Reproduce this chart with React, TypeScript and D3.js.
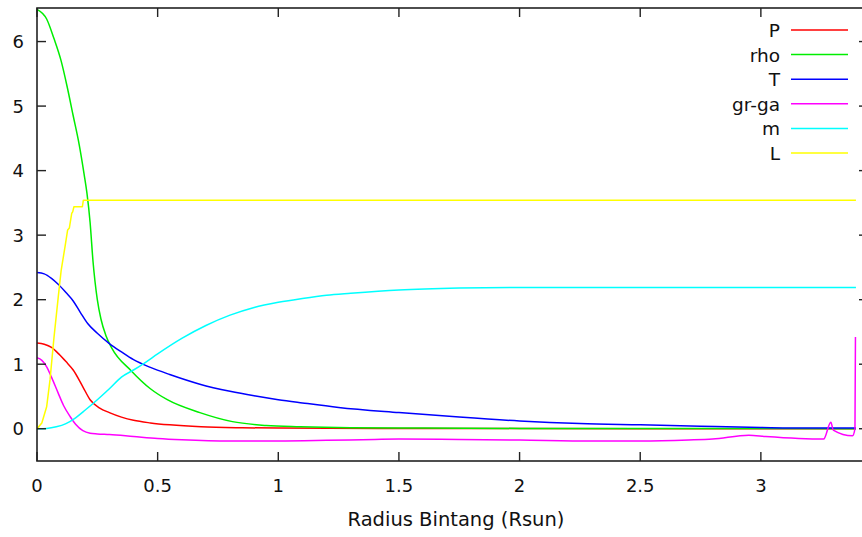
import React from "react";
import * as d3 from "d3";

// ---- data ----
const xTicks = [0, 0.5, 1, 1.5, 2, 2.5, 3];
const yTicks = [0, 1, 2, 3, 4, 5, 6];
const xTickLabels = ["0", "0.5", "1", "1.5", "2", "2.5", "3"];
const yTickLabels = ["0", "1", "2", "3", "4", "5", "6"];
const xTitle = "Radius Bintang (Rsun)";

const seriesNames = ["P", "rho", "T", "gr-ga", "m", "L"];
const seriesColors = ["#ff0000", "#00ee00", "#0000ff", "#ff00ff", "#00ffff", "#ffff00"];

const pR = [0, 0.03, 0.06, 0.09, 0.12, 0.15, 0.19, 0.22, 0.26, 0.3, 0.35, 0.4, 0.47, 0.55, 0.68, 0.85, 1.0, 1.5, 2.0, 3.0, 3.394];
const pV = [1.33, 1.31, 1.26, 1.16, 1.04, 0.91, 0.65, 0.45, 0.32, 0.25, 0.18, 0.13, 0.09, 0.06, 0.03, 0.015, 0.01, 0.004, 0.002, 0.001, 0.0];

const rhoR = [0, 0.04, 0.07, 0.1, 0.125, 0.15, 0.175, 0.195, 0.207, 0.22, 0.232, 0.25, 0.265, 0.285, 0.31, 0.39, 0.47, 0.54, 0.675, 0.81, 0.95, 1.09, 1.3, 1.6, 2.0, 2.5, 3.0, 3.394];
const rhoV = [6.5, 6.35, 6.05, 5.7, 5.3, 4.85, 4.4, 3.95, 3.65, 3.2, 2.6, 2.0, 1.7, 1.45, 1.25, 0.9, 0.62, 0.45, 0.25, 0.11, 0.05, 0.03, 0.015, 0.01, 0.005, 0.003, 0.002, 0.001];

const tR = [0, 0.03, 0.06, 0.09, 0.12, 0.15, 0.18, 0.21, 0.25, 0.3, 0.35, 0.4, 0.47, 0.55, 0.675, 0.8, 0.9, 1.0, 1.1, 1.25, 1.5, 1.75, 2.0, 2.25, 2.5, 2.75, 3.0, 3.2, 3.394];
const tV = [2.42, 2.4, 2.33, 2.23, 2.11, 1.98, 1.8, 1.63, 1.48, 1.32, 1.19, 1.07, 0.95, 0.84, 0.69, 0.58, 0.51, 0.45, 0.4, 0.33, 0.25, 0.18, 0.12, 0.08, 0.06, 0.04, 0.02, 0.01, 0.01];

const ggR = [0, 0.02, 0.04, 0.06, 0.087, 0.11, 0.137, 0.16, 0.19, 0.22, 0.25, 0.3, 0.4, 0.5, 0.6, 0.8, 1.0, 1.2, 1.4, 1.5, 1.75, 2.0, 2.3, 2.5, 2.7, 2.8, 2.95, 3.02, 3.26, 3.29, 3.3, 3.38, 3.39, 3.392];
const ggV = [1.1, 1.06, 0.96, 0.8, 0.56, 0.36, 0.19, 0.07, -0.03, -0.07, -0.08, -0.09, -0.12, -0.15, -0.17, -0.19, -0.19, -0.18, -0.165, -0.16, -0.165, -0.175, -0.19, -0.19, -0.175, -0.16, -0.1, -0.12, -0.16, 0.1, -0.02, -0.11, 0.0, 1.42];

const mR = [0, 0.04, 0.08, 0.12, 0.16, 0.2, 0.25, 0.3, 0.35, 0.4, 0.45, 0.5, 0.6, 0.7, 0.8, 0.9, 1.0, 1.1, 1.2, 1.3, 1.5, 1.75, 2.0, 2.5, 3.0, 3.394];
const mV = [0, 0.005, 0.03, 0.08, 0.17, 0.29, 0.45, 0.62, 0.8, 0.91, 1.03, 1.16, 1.4, 1.6, 1.76, 1.88, 1.96, 2.02, 2.07, 2.1, 2.15, 2.18, 2.19, 2.19, 2.19, 2.19];

const lR = [0, 0.02, 0.04, 0.054, 0.07, 0.088, 0.1, 0.116, 0.127, 0.134, 0.144, 0.148, 0.153, 0.188, 0.192, 3.394];
const lV = [0, 0.09, 0.34, 0.76, 1.4, 2.04, 2.45, 2.82, 3.08, 3.11, 3.34, 3.36, 3.44, 3.44, 3.54, 3.54];

const seriesR = [pR, rhoR, tR, ggR, mR, lR];
const seriesV = [pV, rhoV, tV, ggV, mV, lV];

// ---- layout ----
const W = 862;
const H = 537;
const left = 37;
const right = 868;
const top = 8;
const bottom = 461;
const FONT = "'DejaVu Sans', sans-serif";
const FS = 18;

export default function App() {
  const x = d3.scaleLinear().domain([0, 3.444]).range([left, right]);
  const y = d3.scaleLinear().domain([-0.5, 6.52]).range([bottom, top]);

  const paths = seriesNames.map((name, i) => {
    const pts: [number, number][] = seriesR[i].map((r, j) => [r, seriesV[i][j]]);
    const gen = d3
      .line<[number, number]>()
      .x((d) => x(d[0]))
      .y((d) => y(d[1]))
      .curve(name === "L" ? d3.curveLinear : d3.curveMonotoneX);
    return gen(pts) || "";
  });

  const axisColor = "#222";
  const tickLen = 9;

  return (
    <svg
      width={W}
      height={H}
      style={{ position: "absolute", left: 0, top: 0, background: "#fff" }}
      fontFamily={FONT}
    >
      <defs>
        <clipPath id="plotclip">
          <rect x={left} y={top} width={right - left} height={bottom - top} />
        </clipPath>
      </defs>
      <rect x={0} y={0} width={W} height={H} fill="#fff" />

      <g clipPath="url(#plotclip)" fill="none" strokeWidth={1.5} strokeLinejoin="round">
        {paths.map((d, i) => (
          <path key={seriesNames[i]} d={d} stroke={seriesColors[i]} />
        ))}
      </g>

      {/* frame */}
      <rect x={left} y={top} width={right - left} height={bottom - top} fill="none" stroke={axisColor} strokeWidth={1.6} />

      {/* x ticks */}
      {xTicks.map((t, i) => (
        <g key={"xt" + i}>
          <line x1={x(t)} x2={x(t)} y1={bottom} y2={bottom - tickLen} stroke={axisColor} strokeWidth={1.4} />
          <line x1={x(t)} x2={x(t)} y1={top} y2={top + tickLen} stroke={axisColor} strokeWidth={1.4} />
          <text x={x(t)} y={492} textAnchor="middle" fontSize={FS} fill="#111">
            {xTickLabels[i]}
          </text>
        </g>
      ))}

      {/* y ticks */}
      {yTicks.map((t, i) => (
        <g key={"yt" + i}>
          <line x1={left} x2={left + tickLen} y1={y(t)} y2={y(t)} stroke={axisColor} strokeWidth={1.4} />
          <line x1={right} x2={right - tickLen} y1={y(t)} y2={y(t)} stroke={axisColor} strokeWidth={1.4} />
          <text x={24} y={y(t) + 6.5} textAnchor="end" fontSize={FS} fill="#111">
            {yTickLabels[i]}
          </text>
        </g>
      ))}

      <text x={456} y={526} textAnchor="middle" fontSize={19.5} fill="#111">
        {xTitle}
      </text>

      {/* legend */}
      {seriesNames.map((name, i) => {
        const ly = 30 + i * 24.6;
        return (
          <g key={"lg" + name}>
            <text x={780} y={ly + 7} textAnchor="end" fontSize={18.5} fill="#111">
              {name}
            </text>
            <line x1={791} x2={848} y1={ly} y2={ly} stroke={seriesColors[i]} strokeWidth={1.5} />
          </g>
        );
      })}
    </svg>
  );
}
